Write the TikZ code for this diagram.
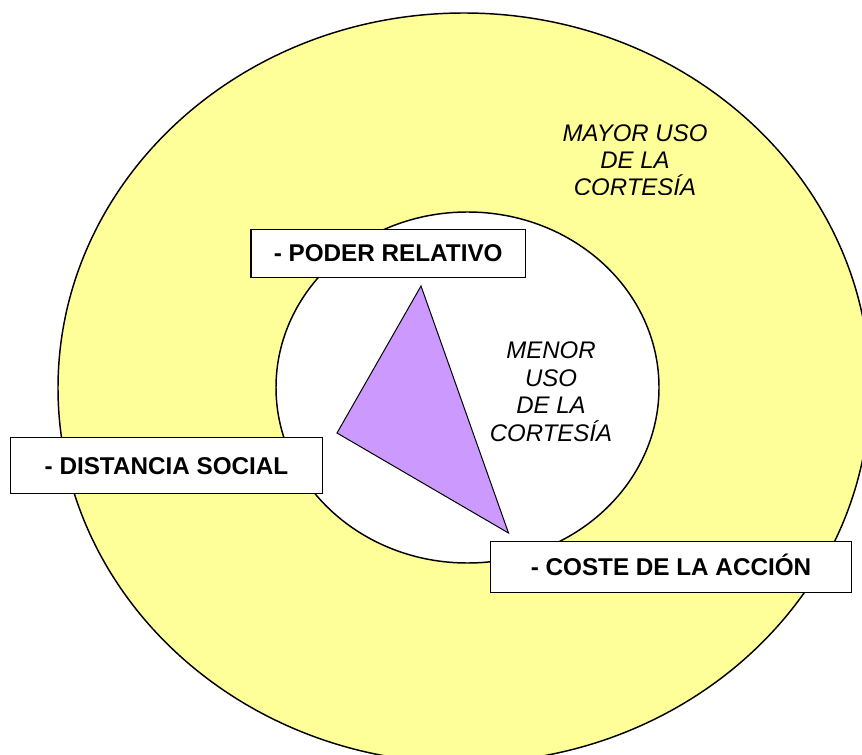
\documentclass[tikz,border=0pt]{standalone}
\usepackage{fontspec}
\setmainfont{Liberation Sans}
\definecolor{ringyellow}{HTML}{FFFF99}
\definecolor{trililac}{HTML}{CC99FF}
\newcommand{\factorfont}{\fontsize{18.2}{20.6}\selectfont\bfseries}
\newcommand{\usagefont}{\fontsize{18}{20.6}\selectfont\itshape}

\begin{document}
\begin{tikzpicture}[
        x=0.75pt, y=-0.75pt,
        ring/.style={line width=1.1pt, draw=black},
        factor/.style={rectangle, draw=black, fill=white, line width=1.1pt,
                       inner sep=0pt, text height=13pt, text depth=0pt, font=\factorfont},
        usage/.style={align=center, inner sep=0pt, anchor=north, font=\usagefont}
      ]
      \useasboundingbox (0,0) rectangle (862,755);
      \clip (0,0) rectangle (862,755);

      % rings
      \draw[ring, fill=ringyellow] (464,388) ellipse [x radius=406, y radius=375];
      \draw[ring, fill=white] (467.5,387.5) ellipse [x radius=191.5, y radius=175.5];

      % triangle
      \coordinate (apex) at (421,286);
      \coordinate (corner) at (337,433);
      \coordinate (tip) at (508.5,533);
      \draw[fill=trililac, line width=0.75pt] (apex) -- (corner) -- (tip) -- cycle;

      % factors
      \node (poder) [factor, minimum width=206pt, minimum height=36pt] at (388.2,253.3) {- PODER RELATIVO};
      \node (distancia) [factor, minimum width=234.2pt, minimum height=42pt] at (166.5,465.7) {- DISTANCIA SOCIAL};
      \node (coste) [factor, minimum width=270.9pt, minimum height=38pt] at (671,567) {- COSTE DE LA ACCIÓN};

      % usage
      \begin{scope}
        \clip (500,100) rectangle (780,195);
        \node (mayor) [usage] at (635,124) {MAYOR USO\\DE LA\\CORTESÍA};
      \end{scope}
      \node (menor) [usage] at (551,341.7) {MENOR\\USO\\DE LA\\CORTESÍA};
    \end{tikzpicture}
\end{document}
